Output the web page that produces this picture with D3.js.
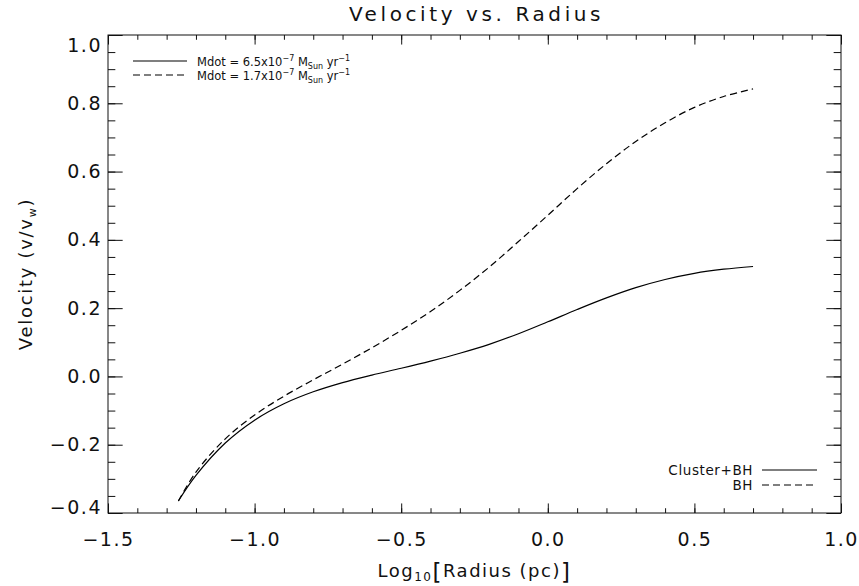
<!DOCTYPE html>
<html>
<head>
<meta charset="utf-8">
<script src="https://cdn.jsdelivr.net/npm/d3@7"></script>
<style>
  body { margin: 0; background: #fff; }
  svg text { font-family: "DejaVu Sans", "Liberation Sans", sans-serif; fill: #111; }
</style>
</head>
<body>
<svg id="chart" width="859" height="586"></svg>
<script>
// log10 of radius (pc) at which the wind velocity is sampled
const logRadius = [-1.26, -1.2, -1.1, -1.0, -0.9, -0.8, -0.7, -0.6, -0.5, -0.4, -0.3,
                   -0.2, -0.1, 0.0, 0.1, 0.2, 0.3, 0.4, 0.5, 0.6, 0.7];
// Mdot = 6.5e-7 Msun/yr  (Cluster+BH)
const velClusterBH = [-0.365, -0.29, -0.195, -0.128, -0.08, -0.045, -0.018, 0.004, 0.024, 0.045, 0.068,
                      0.094, 0.125, 0.16, 0.196, 0.23, 0.26, 0.284, 0.302, 0.314, 0.322];
// Mdot = 1.7e-7 Msun/yr  (BH)
const velBH = [-0.365, -0.28, -0.183, -0.113, -0.058, -0.01, 0.036, 0.084, 0.135, 0.19, 0.252,
               0.32, 0.395, 0.472, 0.55, 0.623, 0.688, 0.743, 0.788, 0.82, 0.842];

const xTicks = [-1.5, -1.0, -0.5, 0.0, 0.5, 1.0];
const yTicks = [-0.4, -0.2, 0.0, 0.2, 0.4, 0.6, 0.8, 1.0];
const xMinorTicks = d3.range(-15, 11).map(d => d / 10);
const yMinorTicks = d3.range(-8, 21).map(d => d / 20);

const W = 859, H = 586;
const m = { left: 108, right: 18, top: 35, bottom: 73 };
const pw = W - m.left - m.right, ph = H - m.top - m.bottom;

const svg = d3.select("#chart");
const g = svg.append("g").attr("transform", `translate(${m.left},${m.top})`);

const x = d3.scaleLinear().domain([-1.5, 1.0]).range([0, pw]);
const y = d3.scaleLinear().domain([-0.4, 1.0]).range([ph, 0]);

const fmt = d3.format(".1f");
const xMaj = 0.02 * ph, yMaj = 0.02 * pw;

function styleAxis(sel) {
  sel.select(".domain").remove();
  sel.selectAll("line").attr("stroke", "#111").attr("stroke-width", 1);
  sel.selectAll("text").attr("font-size", 19).attr("letter-spacing", "1.5px").attr("fill", "#111");
}

// bottom axis with labels
g.append("g").attr("transform", `translate(0,${ph})`)
  .call(d3.axisBottom(x).tickValues(xTicks).tickSize(-xMaj).tickPadding(20).tickFormat(fmt))
  .call(styleAxis);
g.append("g").attr("transform", `translate(0,${ph})`)
  .call(d3.axisBottom(x).tickValues(xMinorTicks).tickSize(-xMaj / 2).tickFormat(""))
  .call(styleAxis);
// top axis (ticks only)
g.append("g")
  .call(d3.axisTop(x).tickValues(xTicks).tickSize(-xMaj).tickFormat(""))
  .call(styleAxis);
g.append("g")
  .call(d3.axisTop(x).tickValues(xMinorTicks).tickSize(-xMaj / 2).tickFormat(""))
  .call(styleAxis);

// left axis with labels
const yAx = g.append("g")
  .call(d3.axisLeft(y).tickValues(yTicks).tickSize(-yMaj).tickPadding(6).tickFormat(fmt))
  .call(styleAxis);
yAx.selectAll(".tick text").attr("dy", d => d === 1.0 ? "0.85em" : d === -0.4 ? "0.05em" : "0.32em");
g.append("g")
  .call(d3.axisLeft(y).tickValues(yMinorTicks).tickSize(-yMaj / 2).tickFormat(""))
  .call(styleAxis);
// right axis (ticks only)
g.append("g").attr("transform", `translate(${pw},0)`)
  .call(d3.axisRight(y).tickValues(yTicks).tickSize(-yMaj).tickFormat(""))
  .call(styleAxis);
g.append("g").attr("transform", `translate(${pw},0)`)
  .call(d3.axisRight(y).tickValues(yMinorTicks).tickSize(-yMaj / 2).tickFormat(""))
  .call(styleAxis);

// plot frame
g.append("rect").attr("width", pw).attr("height", ph)
  .attr("fill", "none").attr("stroke", "#111").attr("stroke-width", 1);

// curves
const line = d3.line().x((d, i) => x(logRadius[i])).y(d => y(d)).curve(d3.curveCatmullRom.alpha(0.5));
g.append("path").datum(velClusterBH).attr("d", line)
  .attr("fill", "none").attr("stroke", "#000").attr("stroke-width", 1.2);
g.append("path").datum(velBH).attr("d", line)
  .attr("fill", "none").attr("stroke", "#000").attr("stroke-width", 1.2)
  .attr("stroke-dasharray", "7,4");

// title
svg.append("text").attr("x", m.left + pw / 2 + 2).attr("y", 21)
  .attr("text-anchor", "middle").attr("font-size", 20).attr("letter-spacing", "3.6px")
  .text("Velocity vs. Radius");

// x axis title
const xt = svg.append("text").attr("x", m.left + pw / 2).attr("y", 577)
  .attr("text-anchor", "middle").attr("font-size", 18).attr("letter-spacing", "1.5px");
xt.append("tspan").text("Log");
xt.append("tspan").attr("font-size", 12).attr("dy", 4).text("10");
xt.append("tspan").attr("font-size", 23).attr("dy", -1).text("[");
xt.append("tspan").attr("font-size", 18).attr("dy", -3).text("Radius (pc)");
xt.append("tspan").attr("font-size", 23).attr("dy", 3).text("]");

// y axis title
const yt = svg.append("text")
  .attr("transform", `translate(32,${m.top + ph / 2}) rotate(-90)`)
  .attr("text-anchor", "middle").attr("font-size", 18).attr("letter-spacing", "1.7px");
yt.append("tspan").text("Velocity (v/v");
yt.append("tspan").attr("font-size", 11).attr("dy", 4).text("w");
yt.append("tspan").attr("font-size", 18).attr("dy", -4).text(")");

// upper-left legend: mass-loss rates
const legA = [
  { dash: null, mdot: "6.5" },
  { dash: "7,4", mdot: "1.7" }
];
legA.forEach((d, i) => {
  const yy = 61 + i * 14;
  svg.append("line").attr("x1", 133).attr("x2", 187).attr("y1", yy).attr("y2", yy)
    .attr("stroke", "#000").attr("stroke-width", 1.1).attr("stroke-dasharray", d.dash);
  const t = svg.append("text").attr("x", 197).attr("y", yy + 4.5).attr("font-size", 11.5);
  t.append("tspan").text(`Mdot = ${d.mdot}x10`);
  t.append("tspan").attr("font-size", 8).attr("dy", -5).text("\u22127");
  t.append("tspan").attr("font-size", 11.5).attr("dy", 5).text(" M");
  t.append("tspan").attr("font-size", 8).attr("dy", 3).text("Sun");
  t.append("tspan").attr("font-size", 11.5).attr("dy", -3).text(" yr");
  t.append("tspan").attr("font-size", 8).attr("dy", -5).text("\u22121");
});

// lower-right legend: model names
const legB = [
  { dash: null, name: "Cluster+BH" },
  { dash: "7,4", name: "BH" }
];
legB.forEach((d, i) => {
  const yy = 470 + i * 15;
  svg.append("line").attr("x1", 762).attr("x2", 817).attr("y1", yy).attr("y2", yy)
    .attr("stroke", "#000").attr("stroke-width", 1.1).attr("stroke-dasharray", d.dash);
  svg.append("text").attr("x", 753).attr("y", yy + 5).attr("text-anchor", "end")
    .attr("font-size", 13.5).attr("letter-spacing", "0.6px").text(d.name);
});
</script>
</body>
</html>
